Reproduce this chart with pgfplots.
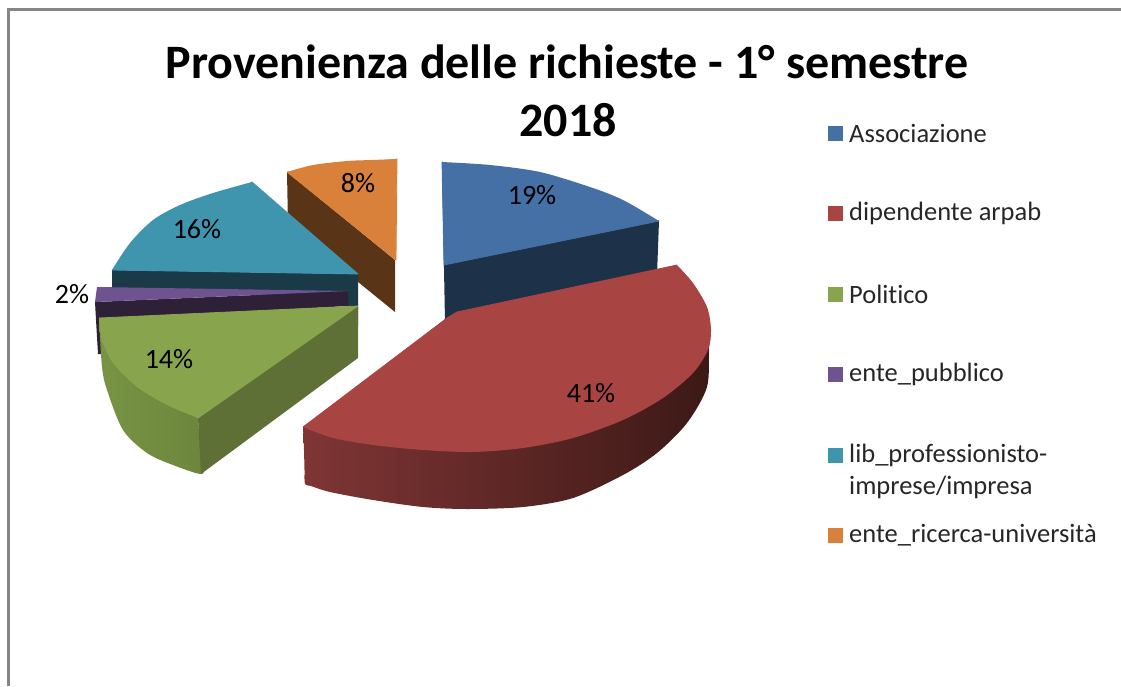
\documentclass[border=0pt]{standalone}
\usepackage{fontspec}
\setmainfont{Carlito}[Ligatures={NoCommon}]
\usepackage{pgfplots}
\pgfplotsset{compat=1.18}
\definecolor{cblue}{RGB}{68,112,165}
\definecolor{cblued}{RGB}{29,50,73}
\definecolor{cred}{RGB}{168,68,66}
\definecolor{credl}{RGB}{127,53,53}
\definecolor{credm}{RGB}{98,40,40}
\definecolor{credr}{RGB}{60,25,22}
\definecolor{cgreen}{RGB}{136,164,76}
\definecolor{cgreenl}{RGB}{120,148,68}
\definecolor{cgreenr}{RGB}{108,133,60}
\definecolor{cgreend}{RGB}{94,112,53}
\definecolor{cpurple}{RGB}{111,83,144}
\definecolor{cpurpled}{RGB}{46,33,55}
\definecolor{cteal}{RGB}{63,149,174}
\definecolor{cteald}{RGB}{26,58,71}
\definecolor{corange}{RGB}{217,129,58}
\definecolor{cbrown}{RGB}{90,52,23}
\definecolor{cframe}{RGB}{134,134,134}
\newcommand{\pct}[3]{\node[font=\fontsize{28}{28}\selectfont,inner sep=0pt] at (axis cs:#1,#2) {#3\%};}
\newcommand{\leg}[3]{%
  \addplot[fill=#2,draw=none] coordinates {(828,#1-7.5) (842.5,#1-7.5) (842.5,#1+7.5) (828,#1+7.5)} --cycle;
  \node[anchor=west,font=\fontsize{26.5}{26.5}\selectfont,inner sep=0pt,text=black!85] at (axis cs:849,#1) {#3};}
% wedge: same colour stroke hides the seam with the smooth arc fill
\tikzset{wedge/.style={fill=#1,draw=#1,line width=0.8pt,line join=round}}
\begin{document}
\begin{tikzpicture}
\begin{axis}[
    width=1121pt,height=686pt,scale only axis,
    xmin=0,xmax=1121,ymin=0,ymax=686,y dir=reverse,
    hide axis,clip=false]
    \path[use as bounding box] (axis cs:0,0) rectangle (axis cs:1121,686);
    % frame
    \addplot[cframe,line width=3pt] coordinates {(8.5,686) (8.5,9.5) (1121,9.5)};
    % orange: each top is a straight wedge plus a smooth fill of its arc
    \addplot[fill=cbrown,draw=none] coordinates {(287,172) (395,260) (395,312) (288,225)} --cycle;
    \addplot[smooth,fill=corange,draw=none] coordinates {(287,172) (313,165) (347,161) (372,160) (397,159)};
    \addplot[wedge=corange] coordinates {(287,172) (397,159) (396,260)} --cycle;
    % teal
    \addplot[fill=cteald,draw=none] coordinates {(112,270) (358,274) (358,326) (345,326) (345,295) (112,295)} --cycle;
    \addplot[smooth,fill=cteal,draw=none] coordinates {(252,182) (213,193) (180,205) (153,220) (130,243) (112,270)};
    \addplot[wedge=cteal] coordinates {(252,182) (112,270) (358,274)} --cycle;
    % purple
    \addplot[fill=cpurpled,draw=none] coordinates {(95,302) (348,291) (348,306) (105,320) (102,354) (98,354) (96,320)} --cycle;
    \addplot[fill=cpurple,draw=none] coordinates {(97,287) (348,291) (95,302)} --cycle;
    % green
    \addplot[smooth,left color=cgreenl,right color=cgreenr,draw=none] coordinates {(99,318) (102,367) (107,390) (123,430) (147,453) (173,465) (202,474) (201,460) (198,418)};
    \addplot[fill=cgreend,draw=none] coordinates {(198,418) (358,306) (358,358) (201,474)} --cycle;
    \addplot[smooth,fill=cgreen,draw=none] coordinates {(99,318) (102,340) (113,363) (137,387) (167,405) (198,418)};
    \addplot[wedge=cgreen] coordinates {(358,306) (99,318) (198,418)} --cycle;
    % blue
    \addplot[fill=cblued,draw=none] coordinates {(442,162) (659,221) (657,275) (445,322)} --cycle;
    \addplot[smooth,fill=cblue,draw=none] coordinates {(442,162) (490,165) (540,172) (590,187) (623,200) (659,221)};
    \addplot[wedge=cblue] coordinates {(442,162) (659,221) (444,265)} --cycle;
    % red
    \addplot[smooth,left color=credl,middle color=credm,right color=credr,draw=none] coordinates {(711,330) (709,347) (707,387) (687,423) (657,453) (623,475) (573,498) (523,507) (467,509) (423,507) (373,500) (330,492) (311,486) (305,484) (304.5,470) (304,450) (303,427)};
    \addplot[smooth,fill=cred,draw=none] coordinates {(677,265) (693,283) (707,307) (711,330) (708,350) (693,373) (663,398) (623,420) (573,438) (523,448) (473,452) (423,450) (373,445) (333,438) (303,427)};
    \addplot[wedge=cred] coordinates {(303,427) (447,318) (457,312) (677,265)} --cycle;
    % value labels
    \pct{532}{195}{19}
    \pct{591}{393}{41}
    \pct{169}{359}{14}
    \pct{72}{294}{2}
    \pct{197}{229}{16}
    \pct{358}{183}{8}
    % title
    \node[font=\fontsize{48}{48}\selectfont\bfseries,inner sep=0pt] at (axis cs:567,62) {Provenienza delle richieste - 1° semestre};
    \node[font=\fontsize{48}{48}\selectfont\bfseries,inner sep=0pt] at (axis cs:568,120) {2018};
    % legend
    \leg{133}{cblue}{Associazione}
    \leg{213}{cred}{dipendente arpab}
    \leg{294}{cgreen}{Politico}
    \leg{374}{cpurple}{ente\_pubblico}
    \leg{455}{cteal}{lib\_professionisto-}
    \node[anchor=west,font=\fontsize{26.5}{26.5}\selectfont,inner sep=0pt,text=black!85] at (axis cs:849,487) {imprese/impresa};
    \leg{535}{corange}{ente\_ricerca-università}
\end{axis}
\end{tikzpicture}
\end{document}
